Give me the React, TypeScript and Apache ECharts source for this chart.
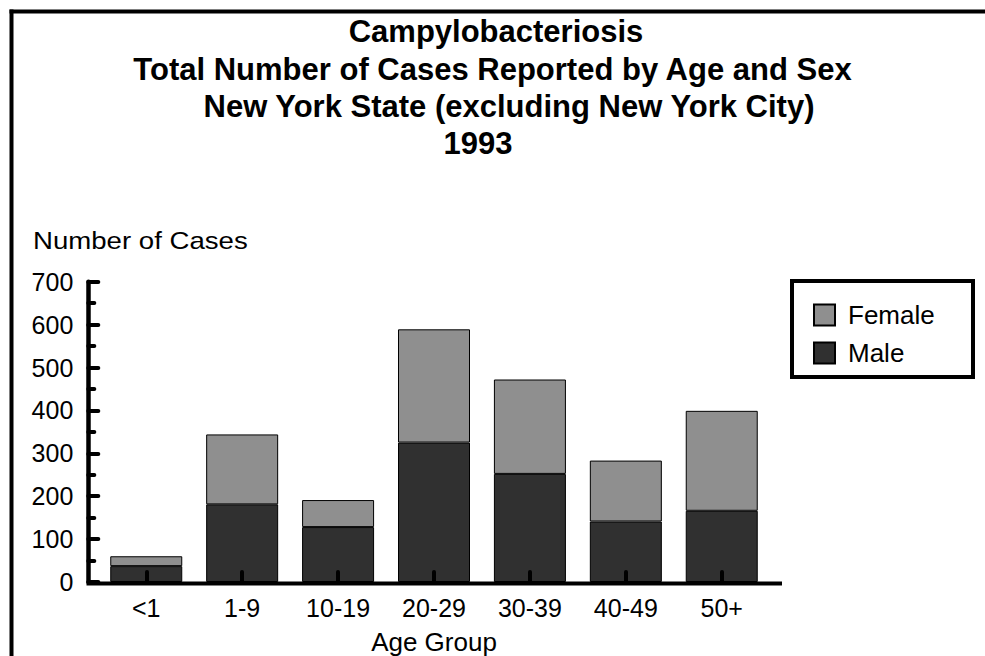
import React, { useEffect, useRef } from "react";
import * as echarts from "echarts";

// ---- data ----
const categories = ["<1", "1-9", "10-19", "20-29", "30-39", "40-49", "50+"];
const maleCases = [37, 181, 128, 325, 252, 141, 166];
const femaleCases = [23, 163, 63, 264, 220, 142, 233];
const yMin = 0;
const yMax = 700;
const yInterval = 100;
const titleLines = [
  "Campylobacteriosis",
  "Total Number of Cases Reported by Age and Sex",
  "New York State (excluding New York City)",
  "1993",
];
const yAxisTitle = "Number of Cases";
const xAxisTitle = "Age Group";
const legendNames = ["Female", "Male"];

// ---- layout (positions only) ----
const titleCenters = [496, 492.5, 509, 478];
const titleYs = [31, 69, 106.5, 143.5];

export default function App() {
  const ref = useRef<HTMLDivElement>(null);

  useEffect(() => {
    const chart = echarts.init(ref.current as HTMLDivElement, null, { renderer: "svg" });
    const font = "'Liberation Sans', Arial, Helvetica, sans-serif";

    const titleGraphics = titleLines.map((t, i) => ({
      type: "text",
      x: titleCenters[i],
      y: titleYs[i],
      silent: true,
      style: {
        text: t,
        fontFamily: font,
        fontSize: 31,
        fontWeight: "bold",
        fill: "#000",
        textAlign: "center",
        textVerticalAlign: "middle",
      },
    }));

    chart.setOption({
      animation: false,
      backgroundColor: "#ffffff",
      textStyle: { fontFamily: font, color: "#000" },
      grid: { left: 98.3, right: 215.3, top: 281.7, bottom: 72.5, containLabel: false },
      legend: {
        data: legendNames,
        orient: "vertical",
        left: 813,
        top: 302,
        padding: 0,
        itemWidth: 21,
        itemHeight: 21,
        itemGap: 12,
        icon: "rect",
        z: 10,
        textStyle: { fontFamily: font, fontSize: 26, color: "#000", padding: [0, 0, 0, 8] },
      },
      xAxis: {
        type: "category",
        data: categories,
        z: 5,
        axisLine: { show: false },
        axisTick: {
          show: true,
          inside: true,
          length: 10,
          alignWithLabel: true,
          lineStyle: { color: "#000", width: 4, cap: "round" },
        },
        axisLabel: { fontFamily: font, fontSize: 25, color: "#000", margin: 13, interval: 0 },
        name: xAxisTitle,
        nameLocation: "middle",
        nameGap: 47,
        nameTextStyle: { fontFamily: font, fontSize: 26, color: "#000" },
      },
      yAxis: {
        type: "value",
        min: yMin,
        max: yMax,
        interval: yInterval,
        offset: 10,
        z: 5,
        axisLine: { show: true, lineStyle: { color: "#000", width: 4.5 } },
        axisTick: {
          show: true,
          inside: true,
          length: 10,
          lineStyle: { color: "#000", width: 4, cap: "round" },
        },
        minorTick: {
          show: true,
          splitNumber: 2,
          length: 6,
          lineStyle: { color: "#000", width: 4, cap: "round" },
        },
        splitLine: { show: false },
        axisLabel: { fontFamily: font, fontSize: 25, color: "#000", margin: 15 },
      },
      series: [
        {
          name: "Male",
          type: "bar",
          stack: "total",
          data: maleCases,
          barWidth: 72,
          itemStyle: { color: "#303030", borderColor: "#000", borderWidth: 1 },
        },
        {
          name: "Female",
          type: "bar",
          stack: "total",
          data: femaleCases,
          barWidth: 72,
          itemStyle: { color: "#8f8f8f", borderColor: "#000", borderWidth: 1 },
        },
      ],
      graphic: [
        {
          type: "line",
          silent: true,
          z: -10,
          shape: { x1: 11.5, y1: 9.5, x2: 11.5, y2: 656 },
          style: { stroke: "#000", lineWidth: 4 },
        },
        {
          type: "line",
          silent: true,
          z: -10,
          shape: { x1: 9.5, y1: 11.5, x2: 985, y2: 11.5 },
          style: { stroke: "#000", lineWidth: 4 },
        },
        {
          type: "line",
          silent: true,
          z: 10,
          shape: { x1: 86.5, y1: 583.5, x2: 782, y2: 583.5 },
          style: { stroke: "#000", lineWidth: 4 },
        },
        {
          type: "rect",
          silent: true,
          z: 1,
          shape: { x: 792, y: 281, width: 181, height: 96 },
          style: { fill: "#fff", stroke: "#000", lineWidth: 4 },
        },
        {
          type: "text",
          x: 33,
          y: 241,
          scaleX: 1.15,
          silent: true,
          style: {
            text: yAxisTitle,
            fontFamily: font,
            fontSize: 24,
            fill: "#000",
            textAlign: "left",
            textVerticalAlign: "middle",
          },
        },
        ...titleGraphics,
      ],
    });

    return () => {
      chart.dispose();
    };
  }, []);

  return (
    <div
      ref={ref}
      style={{ position: "fixed", left: 0, top: 0, width: 985, height: 656, overflow: "hidden" }}
    />
  );
}
